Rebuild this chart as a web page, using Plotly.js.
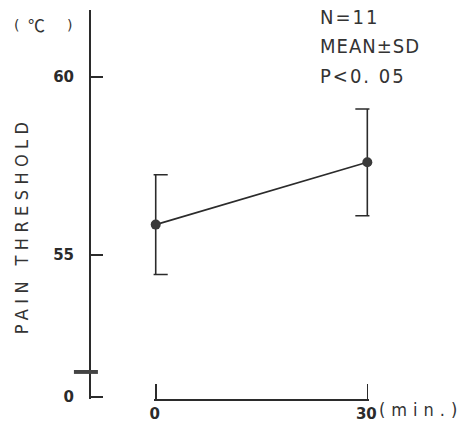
<!DOCTYPE html>
<html>
<head>
<meta charset="utf-8">
<script src="https://cdn.plot.ly/plotly-3.0.1.min.js"></script>
<style>html,body{margin:0;padding:0;background:#fff;}#chart{width:466px;height:425px;}</style>
</head>
<body>
<div id="chart"></div>
<script>
// Data
const timesMin = [0, 30];
const meanThreshold = [55.85, 57.6];
const sdThreshold = [1.4, 1.5];
const xTickVals = [0, 30];
const xTickText = ['0', '30'];
const yBreakBase = 51.01;     // axis origin drawn as "0" after the break
const yBreakMark = 51.71;
const yTickVals = [yBreakBase, 55, 60];
const yTickText = ['0', '55', '60'];

const ink = '#2b2b2b';
const thin = 'Liberation Sans Narrow, DejaVu Sans Condensed, Roboto Condensed, Liberation Sans, sans-serif';
const boxy = 'DejaVu Sans, Verdana, sans-serif';

const trace = {
  x: timesMin, y: meanThreshold, type: 'scatter', mode: 'lines+markers', cliponaxis: false,
  line: {color: ink, width: 1.6},
  marker: {color: '#3a3a3a', size: 10},
  error_y: {type: 'data', array: sdThreshold, visible: true, color: ink, thickness: 1.6, width: 12},
  showlegend: false, hoverinfo: 'skip'
};

const unitFont = {family: 'DejaVu Sans, Noto Sans CJK JP, sans-serif', size: 14, color: '#333'};

const layout = {
  width: 466, height: 425,
  margin: {l: 80, r: 66, t: 10, b: 24},
  paper_bgcolor: '#fff', plot_bgcolor: 'rgba(0,0,0,0)',
  xaxis: {
    domain: [0.23, 0.9045], range: [-0.3, 30.3], anchor: 'free', position: 0.005,
    showline: true, linecolor: ink, linewidth: 1.6, showgrid: false, zeroline: false,
    ticks: 'inside', ticklen: 15, tickwidth: 1.6, tickcolor: ink,
    tickvals: xTickVals, ticktext: xTickText, ticklabelshift: -1,
    tickfont: {family: boxy, size: 15, color: ink, weight: 'bold'}
  },
  yaxis: {
    domain: [0.0051, 1], range: [yBreakBase - 0.06, 61.88], anchor: 'free', position: 0.028125,
    showline: true, linecolor: ink, linewidth: 1.6, showgrid: false, zeroline: false,
    ticks: 'inside', ticklen: 12, tickwidth: 1.6, tickcolor: ink,
    tickvals: yTickVals, ticktext: yTickText, ticklabelstandoff: 12,
    tickfont: {family: boxy, size: 15, color: ink, weight: 'bold'}
  },
  shapes: [
    {type: 'rect', xref: 'paper', yref: 'y', x0: -0.019, x1: 0.056, y0: yBreakMark - 0.055, y1: yBreakMark + 0.055,
     fillcolor: '#444', line: {width: 0}}
  ],
  annotations: [
    {xref: 'paper', yref: 'paper', x: -0.184, y: 0.45, xanchor: 'center', yanchor: 'middle',
     text: '<span style="letter-spacing:5.4px">PAIN THRESHOLD</span>',
     textangle: -90, showarrow: false, font: {family: thin, size: 18, color: '#333'}},
    {xref: 'paper', yref: 'paper', x: -0.2, y: 0.962, xanchor: 'center', yanchor: 'middle',
     text: '(', showarrow: false, font: unitFont},
    {xref: 'paper', yref: 'paper', x: -0.137, y: 0.962, xanchor: 'center', yanchor: 'middle',
     text: '℃', showarrow: false, font: {family: 'Noto Sans CJK JP, DejaVu Sans, sans-serif', size: 17, color: '#333'}},
    {xref: 'paper', yref: 'paper', x: -0.034, y: 0.962, xanchor: 'center', yanchor: 'middle',
     text: ')', showarrow: false, font: unitFont},
    {xref: 'paper', yref: 'paper', x: 0.744, y: 0.982, xanchor: 'left', yanchor: 'middle', text: '<span style="letter-spacing:2px">N=11</span>',
     showarrow: false, font: {family: thin, size: 20, color: '#333'}},
    {xref: 'paper', yref: 'paper', x: 0.744, y: 0.908, xanchor: 'left', yanchor: 'middle', text: '<span style="letter-spacing:1px">MEAN±SD</span>',
     showarrow: false, font: {family: thin, size: 20, color: '#333'}},
    {xref: 'paper', yref: 'paper', x: 0.744, y: 0.831, xanchor: 'left', yanchor: 'middle', text: '<span style="letter-spacing:2px">P&lt;0. 05</span>',
     showarrow: false, font: {family: thin, size: 20, color: '#333'}},
    {xref: 'paper', yref: 'paper', x: 0.928, y: -0.0205, xanchor: 'left', yanchor: 'middle', text: '<span style="letter-spacing:6px">(min.)</span>',
     showarrow: false, font: {family: thin, size: 18, color: '#333'}}
  ]
};

Plotly.newPlot('chart', [trace], layout, {staticPlot: true, displayModeBar: false});
</script>
</body>
</html>
